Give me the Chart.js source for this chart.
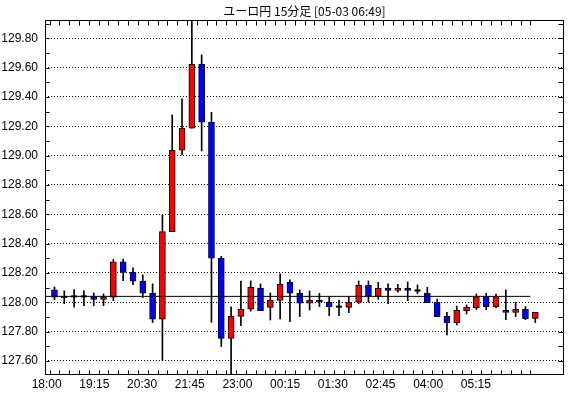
<!DOCTYPE html>
<html><head><meta charset="utf-8">
<script src="https://cdn.jsdelivr.net/npm/chart.js@4.4.1/dist/chart.umd.min.js"></script>
<style>html,body{margin:0;padding:0;background:#fff;}#wrap{width:570px;height:398px;position:relative;}</style>
</head><body><div id="wrap"><canvas id="c"></canvas></div>
<script>
const titleText = 'ユーロ円 15分足 [05-03 06:49]';
const opens  = [128.084,128.040,128.040,128.040,128.038,128.020,128.034,128.275,128.204,128.145,
                128.061,127.884,128.481,129.036,129.186,129.622,129.227,128.300,127.754,127.904,
                127.952,128.095,127.965,128.013,128.136,128.061,127.993,128.013,128.000,127.970,
                127.965,128.000,128.115,128.040,128.097,128.081,128.095,128.080,128.061,128.000,
                127.904,127.861,127.943,127.963,128.038,127.970,127.945,127.931,127.952,127.890];
const highs  = [128.104,128.077,128.086,128.077,128.063,128.056,128.291,128.295,128.234,128.186,
                128.125,128.595,129.277,129.386,129.950,129.686,129.295,128.313,127.968,128.145,
                128.145,128.125,128.063,128.193,128.152,128.084,128.077,128.061,128.038,128.015,
                128.038,128.145,128.145,128.136,128.125,128.122,128.138,128.118,128.102,128.022,
                127.932,127.974,127.982,128.056,128.061,128.056,128.084,128.000,127.970,127.931];
const lows   = [128.016,127.990,127.966,127.977,127.977,127.977,128.011,128.147,128.120,128.032,
                127.862,127.602,128.481,129.004,129.186,129.031,127.863,127.698,127.450,127.840,
                127.940,127.943,127.879,127.886,127.868,127.902,127.947,127.970,127.909,127.909,
                127.929,127.990,128.000,128.020,127.990,128.068,128.011,128.059,127.997,127.902,
                127.777,127.845,127.920,127.950,127.950,127.963,127.881,127.902,127.881,127.861];
const closes = [128.034,128.031,128.040,128.040,128.020,128.036,128.275,128.204,128.143,128.061,
                127.884,128.481,129.036,129.186,129.622,129.227,128.300,127.754,127.904,127.952,
                128.102,127.943,128.013,128.122,128.061,127.993,128.013,128.000,127.970,127.970,
                128.000,128.115,128.040,128.095,128.081,128.095,128.081,128.080,127.997,127.902,
                127.861,127.945,127.965,128.038,127.970,128.038,127.931,127.952,127.888,127.931];
const refLevel = 128.04;
const refSpan = [-0.96, 48.5];
const yTickLabels = ['127.60','127.80','128.00','128.20','128.40','128.60','128.80','129.00','129.20','129.40','129.60','129.80'];
const yFrameTicks = [127.6,127.7,127.8,127.9,128.0,128.1,128.2,128.3,128.4,128.5,128.6,128.7,128.8,128.9,129.0,129.1,129.2,129.3,129.4,129.5,129.6,129.7,129.8,129.9];
const xLabels = ['18:00','19:15','20:30','21:45','23:00','00:15','01:30','02:45','04:00','05:15'];
const xLabelMinutes = [0,75,150,225,300,375,450,525,600,675];

const UP = '#ff0000', DOWN = '#0000ff';
const idx = opens.map((_, i) => i);
const isDoji = i => opens[i] === closes[i];
const bodyIdx = idx.filter(i => !isDoji(i));
const dojiIdx = idx.filter(isDoji);
const yTickValues = yTickLabels.map(Number);

const TXT = "'Liberation Sans Narrow','Liberation Sans',Arial,sans-serif";
Chart.defaults.font.family = TXT;
Chart.defaults.font.size = 12;
Chart.defaults.color = '#000';

const decor = {
  id: 'decor',
  afterDraw(chart) {
    const {ctx, chartArea: a, scales} = chart;
    ctx.save();
    ctx.strokeStyle = '#000'; ctx.lineWidth = 1;
    const L = Math.round(a.left) + 0.5, R = Math.round(a.right) - 0.5;
    const T = Math.round(a.top) + 0.5, B = Math.round(a.bottom) - 0.5;
    ctx.strokeRect(L, T, R - L, B - T);
    ctx.beginPath();
    yFrameTicks.forEach(v => {
      const y = Math.round(scales.y.getPixelForValue(v)) + 0.5;
      ctx.moveTo(L, y); ctx.lineTo(L + 4, y);
      ctx.moveTo(R, y); ctx.lineTo(R - 5, y);
    });
    idx.forEach(i => {
      const x = Math.round(scales.x.getPixelForValue(i - 0.5)) + 0.5;
      ctx.moveTo(x, B); ctx.lineTo(x, B - 4);
      ctx.moveTo(x, T); ctx.lineTo(x, T + 5);
    });
    ctx.stroke();
    ctx.fillStyle = '#000';
    ctx.font = "12px 'Noto Sans CJK JP', sans-serif";
    ctx.textAlign = 'center'; ctx.textBaseline = 'middle';
    ctx.fillText(titleText, (a.left + a.right) / 2, 11);
    ctx.restore();
  }
};

new Chart(document.getElementById('c'), {
  type: 'bar',
  data: {
    datasets: [
      { type: 'line', data: refSpan.map(x => ({x, y: refLevel})), borderColor: '#000', borderWidth: 1,
        pointRadius: 0, order: 0, clip: 0, xAxisID: 'x', yAxisID: 'y' },
      { type: 'scatter', data: dojiIdx.map(i => ({x: i, y: opens[i]})), pointStyle: 'line', pointRadius: 3,
        borderColor: '#000', borderWidth: 2, order: 1, xAxisID: 'x', yAxisID: 'y' },
      { type: 'bar', data: bodyIdx.map(i => ({x: i, y: [opens[i], closes[i]]})),
        backgroundColor: bodyIdx.map(i => closes[i] > opens[i] ? UP : DOWN),
        borderColor: '#000', borderWidth: 1, borderSkipped: false, barThickness: 6, grouped: false,
        order: 2, clip: 0, xAxisID: 'x', yAxisID: 'y' },
      { type: 'bar', data: idx.map(i => ({x: i, y: [lows[i], highs[i]]})), backgroundColor: '#000',
        borderWidth: 0, barThickness: 1, grouped: false, order: 3, clip: 0, xAxisID: 'x', yAxisID: 'y' }
    ]
  },
  options: {
    responsive: true, maintainAspectRatio: false, devicePixelRatio: 1, animation: false, events: [],
    layout: { padding: { top: 20, right: 5, left: 0, bottom: 0 } },
    plugins: { legend: { display: false }, tooltip: { enabled: false }, title: { display: false } },
    scales: {
      x: { type: 'linear', display: false, min: -0.966, max: 51.93, offset: false },
      xt: { type: 'linear', position: 'bottom', min: -2.67, max: 813.6, offset: false,
        grid: { display: false, drawTicks: false }, border: { display: false },
        afterBuildTicks: s => { s.ticks = xLabelMinutes.map(v => ({value: v})); },
        ticks: { autoSkip: false, maxRotation: 0, padding: 2, callback: (v, i) => xLabels[i] },
        afterFit: s => { s.height = 23; } },
      y: { type: 'linear', position: 'left', min: 127.504, max: 129.924, beginAtZero: false,
        grid: { color: '#000', lineWidth: 1, drawTicks: false },
        border: { display: false, dash: [1, 2] },
        afterBuildTicks: s => { s.ticks = yTickValues.map(v => ({value: v})); },
        ticks: { padding: 7, callback: (v, i) => yTickLabels[i] },
        afterFit: s => { s.width = 45; } }
    }
  },
  plugins: [decor]
});
</script></body></html>
